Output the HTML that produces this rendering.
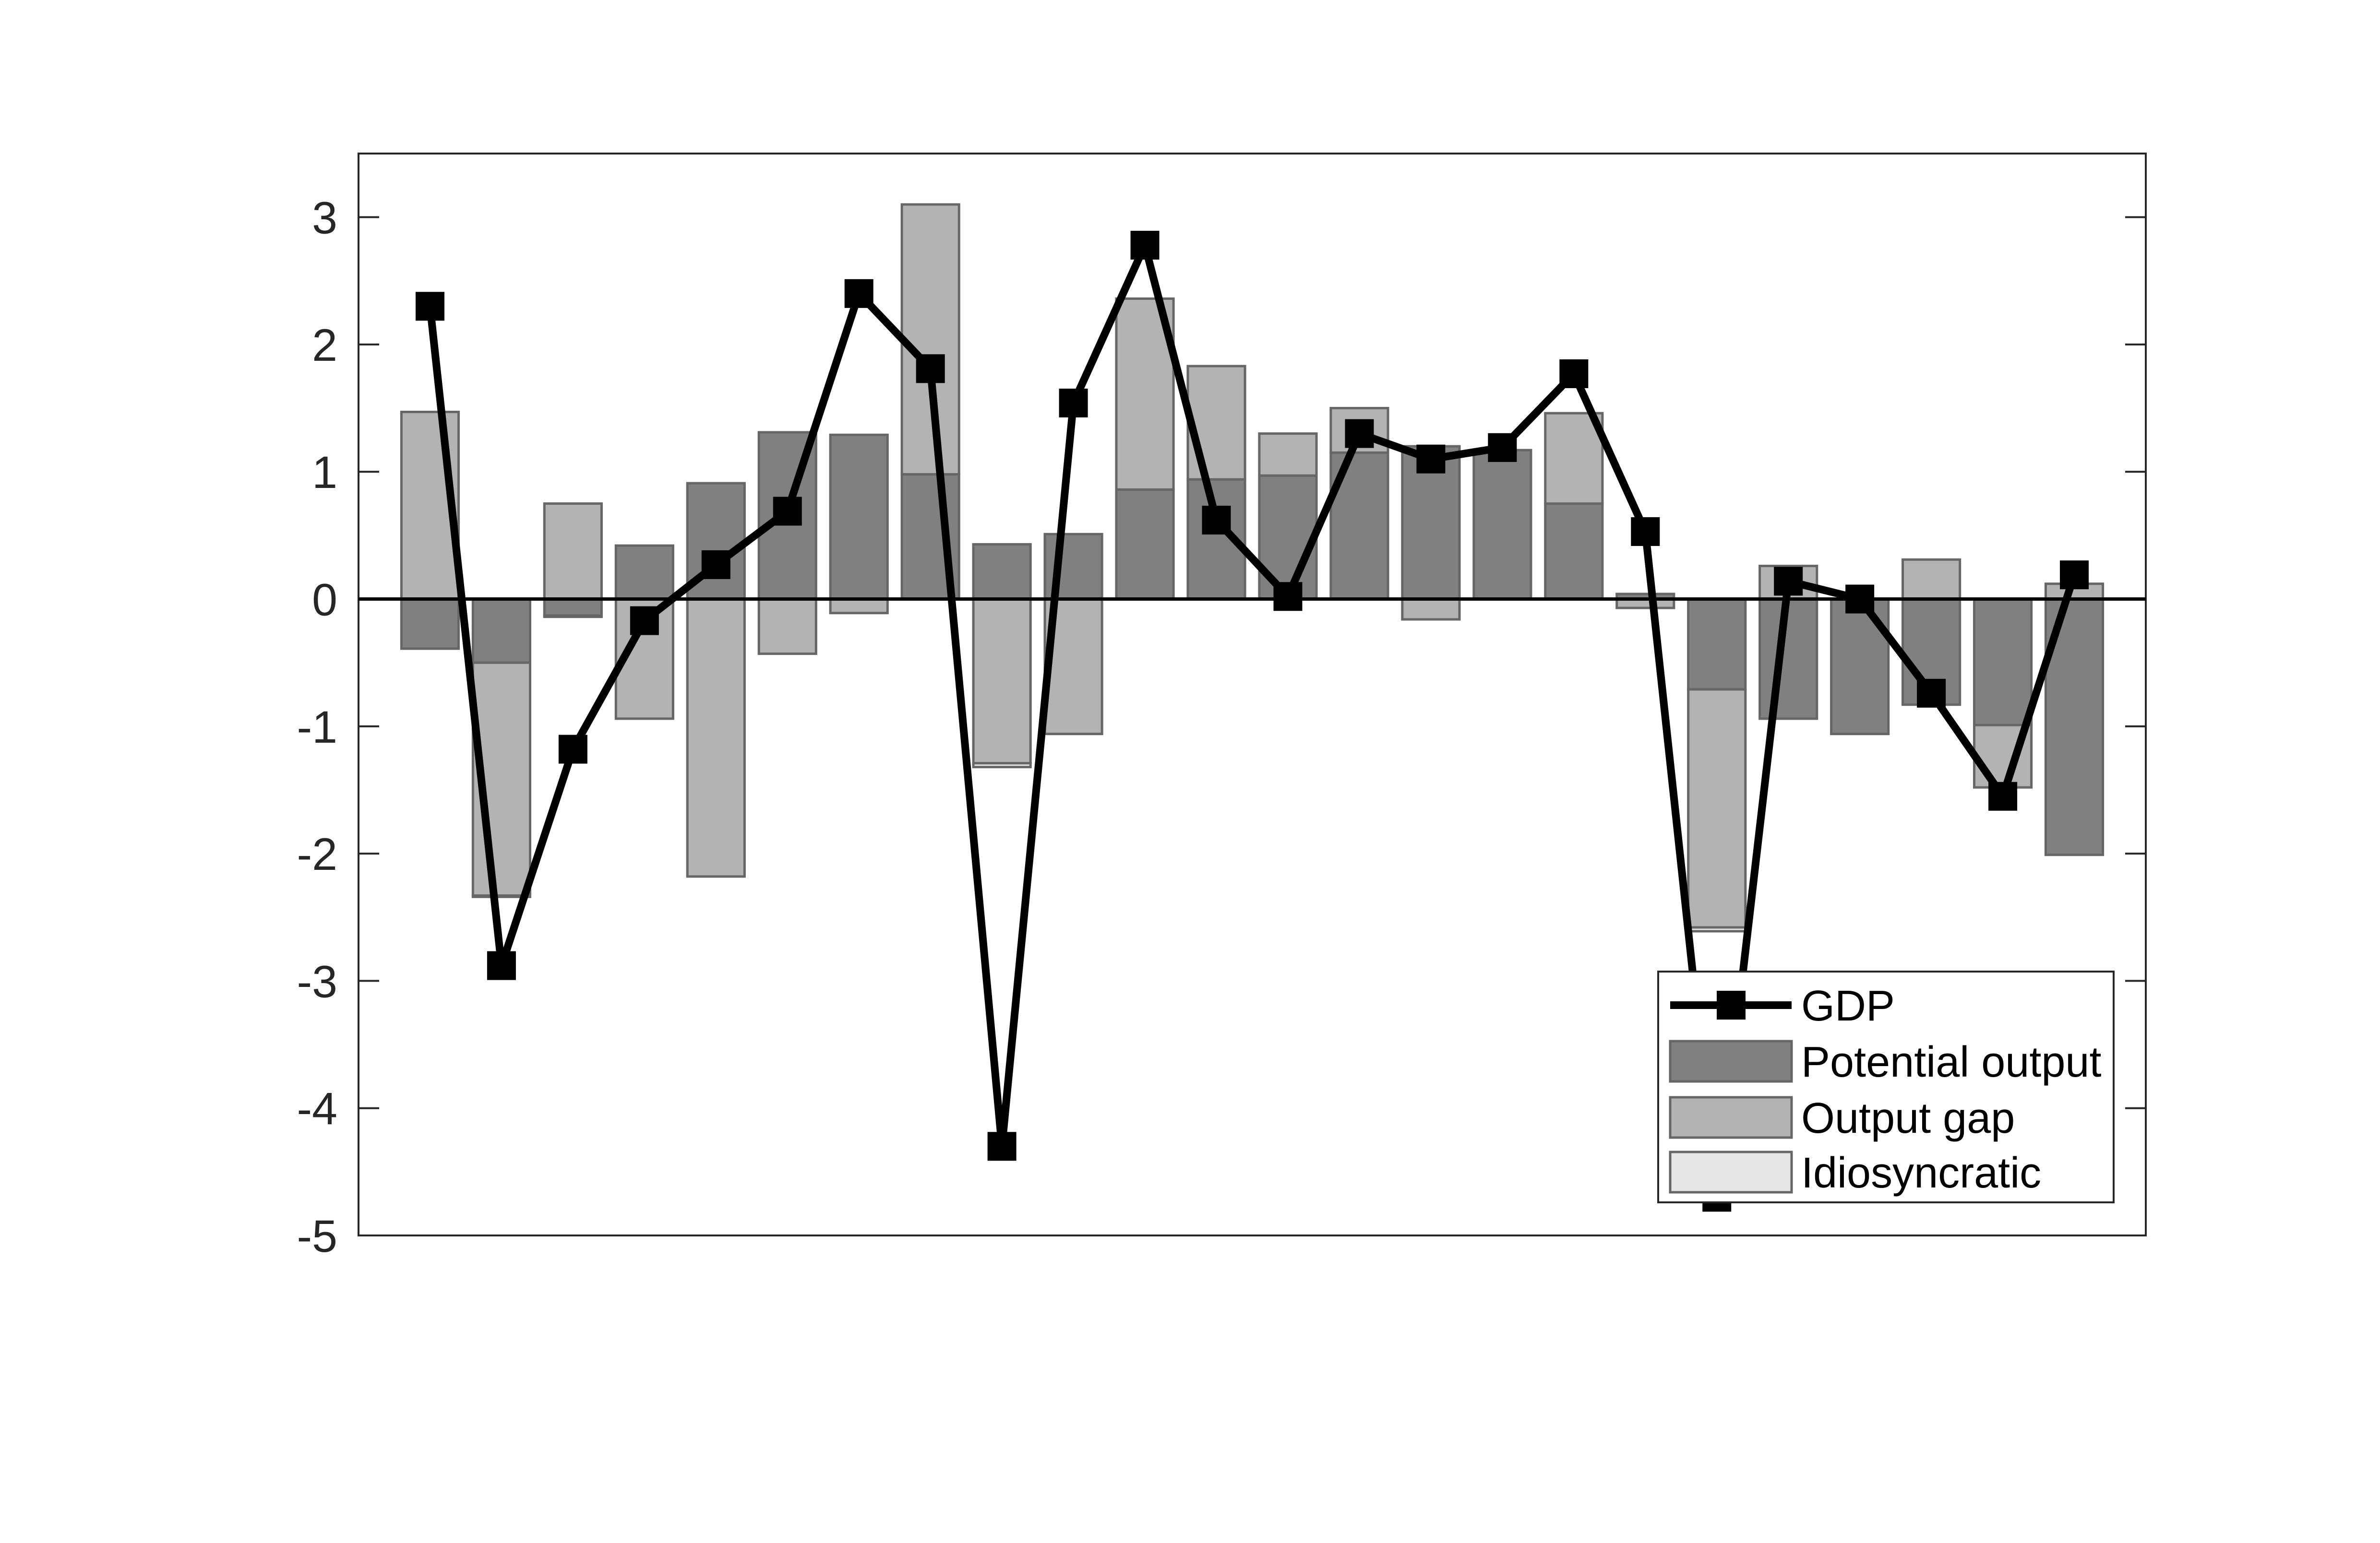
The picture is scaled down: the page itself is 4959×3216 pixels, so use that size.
<!DOCTYPE html>
<html><head><meta charset="utf-8"><style>html,body{margin:0;padding:0;background:#fff}svg{display:block}</style></head>
<body>
<svg id="chart" xmlns="http://www.w3.org/2000/svg" width="4959" height="3216" viewBox="0 0 4959 3216" font-family="Liberation Sans, Arial, sans-serif">
<rect width="4959" height="3216" fill="#fff"/>
<g id="bars"></g>
<g id="axes"></g>
<g id="line"></g>
<g id="legend"></g>
</svg>
<script>
const categories = [1,2,3,4,5,6,7,8,9,10,11,12,13,14,15,16,17,18,19,20,21,22,23,24];
const potential = [-0.39,-0.50,-0.13,0.42,0.91,1.31,1.29,0.98,0.43,0.51,0.86,0.94,0.97,1.15,1.20,1.17,0.75,0.04,-0.71,-0.94,-1.06,-0.83,-0.99,-2.01];
const outputGap = [1.47,-1.83,0.75,-0.94,-2.18,-0.43,-0.11,2.12,-1.29,-1.06,1.50,0.89,0.33,0.35,-0.16,0.0,0.71,-0.07,-1.87,0.26,0.0,0.31,-0.49,0.12];
const idiosyncratic = [0,-0.01,-0.01,0,0,0,0,0,-0.03,0,0,0,0,0,0,0,0,0,-0.03,0,0,0,0,0];
const gdp = [2.30,-2.88,-1.18,-0.17,0.27,0.69,2.40,1.81,-4.30,1.54,2.78,0.62,0.02,1.30,1.10,1.19,1.77,0.53,-4.70,0.14,0.0,-0.74,-1.55,0.19];
const yTicks = [-5,-4,-3,-2,-1,0,1,2,3];

const NS='http://www.w3.org/2000/svg';
const L=747,R=4471,T=320,B=2575;
const xMin=0,xMax=25,yMin=-5,yMax=3.5;
const xs=v=>L+(v-xMin)/(xMax-xMin)*(R-L);
const ys=v=>B-(v-yMin)/(yMax-yMin)*(B-T);
function mk(tag,attrs,parent){const e=document.createElementNS(NS,tag);for(const k in attrs)e.setAttribute(k,attrs[k]);parent.appendChild(e);return e;}
const gb=document.getElementById('bars'),ga=document.getElementById('axes'),gl=document.getElementById('line'),gg=document.getElementById('legend');
const colors=['#808080','#b3b3b3','#e6e6e6'];
const names=['potential-output','output-gap','idiosyncratic'];
const bw=0.8;
categories.forEach((c,i)=>{
  let pos=0,neg=0;
  [potential[i],outputGap[i],idiosyncratic[i]].forEach((v,s)=>{
    let y0,y1;
    if(v>=0){y0=pos;y1=pos+v;pos=y1;}else{y0=neg;y1=neg+v;neg=y1;}
    if(v===0)return;
    const r=mk('rect',{x:xs(c-bw/2),y:ys(Math.max(y0,y1)),width:xs(c+bw/2)-xs(c-bw/2),height:Math.abs(ys(y0)-ys(y1)),fill:colors[s],stroke:'#666',"stroke-width":5},gb);
    
    
  });
});
const box=mk('rect',{x:L,y:T,width:R-L,height:B-T,fill:'none',stroke:'#262626','stroke-width':4},ga);


yTicks.forEach(t=>{
  const y=ys(t);
  const t1=mk('line',{x1:L,x2:L+43,y1:y,y2:y,stroke:'#262626','stroke-width':4},ga);
  
  
  const t2=mk('line',{x1:R-43,x2:R,y1:y,y2:y,stroke:'#262626','stroke-width':4},ga);
  
  
  const tx=mk('text',{x:703,y:y+34,'text-anchor':'end','font-size':95,fill:'#262626'},ga);
  tx.textContent=String(t);
  
  
});
const zl=mk('line',{x1:L,x2:R,y1:ys(0),y2:ys(0),stroke:'#000','stroke-width':7},ga);


const pts=categories.map((c,i)=>xs(c)+','+ys(gdp[i])).join(' ');
const pl=mk('polyline',{points:pts,fill:'none',stroke:'#000','stroke-width':16,'stroke-linejoin':'round'},gl);


categories.forEach((c,i)=>{
  const m=mk('rect',{x:xs(c)-30,y:ys(gdp[i])-30,width:60,height:60,fill:'#000'},gl);
  
  
});
const lb=mk('rect',{x:3455,y:2025,width:949,height:481,fill:'#fff',stroke:'#262626','stroke-width':4},gg);


const ll=mk('line',{x1:3480,x2:3733,y1:2095,y2:2095,stroke:'#000','stroke-width':16},gg);


const lm=mk('rect',{x:3577,y:2065,width:60,height:60,fill:'#000'},gg);


const labels=['GDP','Potential output','Output gap','Idiosyncratic'];
const rows=[2095,2212,2329,2443];
labels.forEach((lab,k)=>{
  if(k>0){
    const sw=mk('rect',{x:3480,y:rows[k]-42,width:253,height:84,fill:colors[k-1],stroke:'#666','stroke-width':5},gg);
    
    
  }
  const t=mk('text',{x:3753,y:rows[k]+32,'font-size':90,fill:'#000'},gg);
  t.textContent=lab;
  
  
});
</script>
</body></html>
